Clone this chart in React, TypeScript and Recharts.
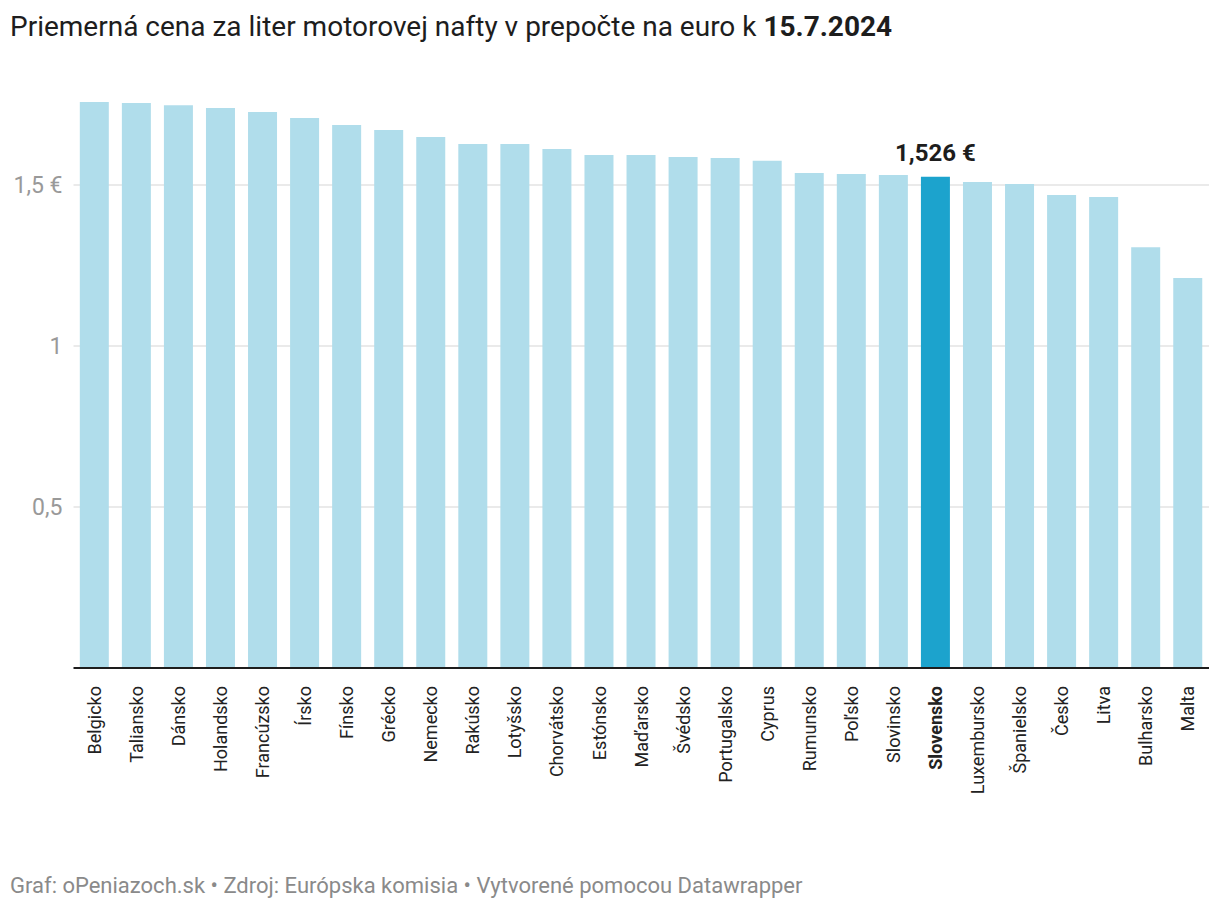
import React from 'react';
import { BarChart, Bar, XAxis, YAxis, CartesianGrid, Cell, LabelList } from 'recharts';

const countries = [
  'Belgicko', 'Taliansko', 'Dánsko', 'Holandsko', 'Francúzsko', 'Írsko', 'Fínsko', 'Grécko', 'Nemecko',
  'Rakúsko', 'Lotyšsko', 'Chorvátsko', 'Estónsko', 'Maďarsko', 'Švédsko', 'Portugalsko', 'Cyprus',
  'Rumunsko', 'Poľsko', 'Slovinsko', 'Slovensko', 'Luxembursko', 'Španielsko', 'Česko', 'Litva',
  'Bulharsko', 'Malta',
];
const prices = [
  1.758, 1.755, 1.748, 1.739, 1.727, 1.708, 1.686, 1.671, 1.649,
  1.627, 1.627, 1.612, 1.593, 1.593, 1.587, 1.584, 1.575,
  1.537, 1.534, 1.531, 1.526, 1.509, 1.503, 1.469, 1.463,
  1.307, 1.211,
];
const yTicks = [0.5, 1, 1.5];
const yTickLabels = ['0,5', '1', '1,5 €'];
const highlight = 'Slovensko';

const data = countries.map((c, i) => ({ name: c, value: prices[i] }));

const FONT = 'Roboto, "Noto Sans", sans-serif';

const XTick = (props: any) => {
  const { x, y, payload } = props;
  const bold = payload.value === highlight;
  return (
    <g transform={`translate(${x},${y + 18})`}>
      <text
        transform="rotate(-90)"
        textAnchor="end"
        dy="0.35em"
        fontFamily={FONT}
        fontSize={18}
        fontWeight={bold ? 700 : 400}
        fill="#222"
      >
        {payload.value}
      </text>
    </g>
  );
};

const ValueLabel = (props: any) => {
  const { x, y, width, index, value } = props;
  if (countries[index] !== highlight) return null;
  return (
    <text
      x={x + width / 2}
      y={y - 16}
      textAnchor="middle"
      fontFamily={FONT}
      fontSize={24}
      fontWeight={700}
      fill="#1d1d1d"
    >
      {`${Number(value).toFixed(3).replace('.', ',')} €`}
    </text>
  );
};

export default function App() {
  return (
    <div style={{ position: 'absolute', left: 0, top: 0, width: 1220, height: 912, background: '#fff', fontFamily: FONT }}>
      <div style={{ position: 'absolute', left: 10, top: 10, fontSize: 28, color: '#1d1d1d', whiteSpace: 'nowrap', lineHeight: '34px' }}>
        Priemerná cena za liter motorovej nafty v prepočte na euro k <b>15.7.2024</b>
      </div>
      <div style={{ position: 'absolute', left: 0, top: 0 }}>
        <BarChart
          width={1220}
          height={912}
          data={data}
          margin={{ top: 88.4, right: 11, bottom: 94, left: 13.5 }}
          barCategoryGap="15%"
        >
          <CartesianGrid horizontal vertical={false} horizontalValues={yTicks} stroke="#e3e3e3" strokeWidth={1.5} />
          <YAxis
            width={60}
            domain={[0, 1.8]}
            ticks={yTicks}
            tickFormatter={(v: number) => yTickLabels[yTicks.indexOf(v)] ?? String(v)}
            axisLine={false}
            tickLine={false}
            tickSize={0}
            tickMargin={11}
            tick={{ fontFamily: FONT, fontSize: 23, fill: '#999' }}
          />
          <XAxis
            dataKey="name"
            interval={0}
            height={150}
            tickLine={false}
            tickSize={0}
            tickMargin={0}
            axisLine={{ stroke: '#1d1d1d', strokeWidth: 2 }}
            tick={<XTick />}
          />
          <Bar dataKey="value" isAnimationActive={false}>
            {data.map((d) => (
              <Cell key={d.name} fill={d.name === highlight ? '#1ca3cd' : '#b0ddeb'} />
            ))}
            <LabelList dataKey="value" content={<ValueLabel />} />
          </Bar>
        </BarChart>
      </div>
      <div style={{ position: 'absolute', left: 10, top: 872, fontSize: 22, color: '#8a8a8a', whiteSpace: 'nowrap', lineHeight: '28px' }}>
        Graf: oPeniazoch.sk • Zdroj: Európska komisia • Vytvorené pomocou Datawrapper
      </div>
    </div>
  );
}
